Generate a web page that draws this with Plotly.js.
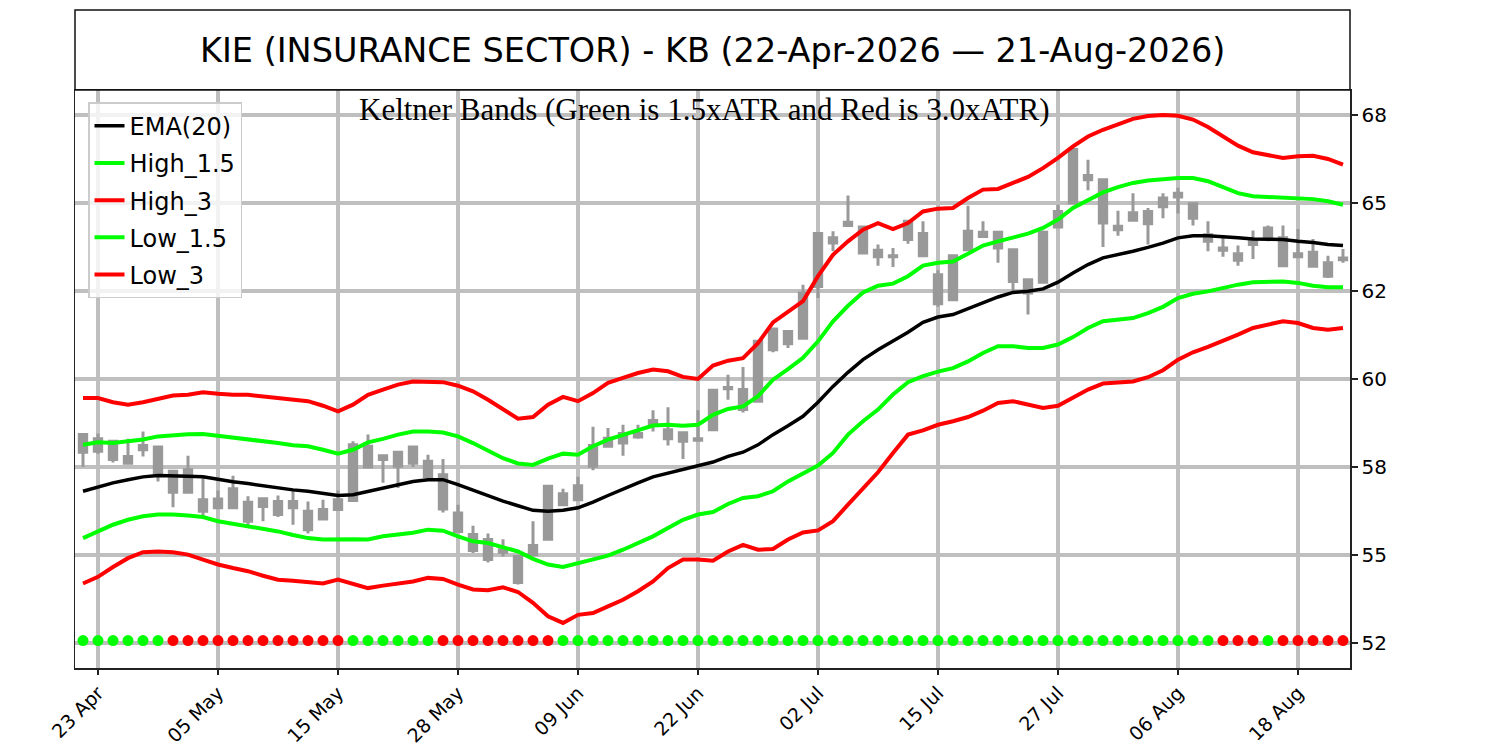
<!DOCTYPE html>
<html>
<head>
<meta charset="utf-8">
<script src="https://cdn.plot.ly/plotly-3.0.1.min.js"></script>
<style>html,body{margin:0;padding:0;background:#fff;}#chart{width:1500px;height:750px;}</style>
</head>
<body>
<div id="chart"></div>
<script>
// Trading days (22-Apr-2026 .. 21-Aug-2026)
const dates = [
 '22 Apr','23 Apr','24 Apr','27 Apr','28 Apr','29 Apr','30 Apr',
 '01 May','04 May','05 May','06 May','07 May','08 May','11 May','12 May','13 May','14 May','15 May',
 '18 May','19 May','20 May','21 May','22 May','26 May','27 May','28 May','29 May',
 '01 Jun','02 Jun','03 Jun','04 Jun','05 Jun','08 Jun','09 Jun','10 Jun','11 Jun','12 Jun',
 '15 Jun','16 Jun','17 Jun','18 Jun','22 Jun','23 Jun','24 Jun','25 Jun','26 Jun','29 Jun','30 Jun',
 '01 Jul','02 Jul','06 Jul','07 Jul','08 Jul','09 Jul','10 Jul','13 Jul','14 Jul','15 Jul',
 '16 Jul','17 Jul','20 Jul','21 Jul','22 Jul','23 Jul','24 Jul','27 Jul','28 Jul','29 Jul','30 Jul','31 Jul',
 '03 Aug','04 Aug','05 Aug','06 Aug','07 Aug','10 Aug','11 Aug','12 Aug','13 Aug','14 Aug',
 '17 Aug','18 Aug','19 Aug','20 Aug','21 Aug'
];

const openP = [
 57.92,58.30,58.23,57.80,57.99,58.07,57.38,56.78,56.57,56.34,
 56.34,56.50,56.38,56.15,56.52,56.24,56.02,56.29,56.55,57.50,
 57.82,57.52,57.61,57.66,57.28,56.19,55.58,55.44,55.15,54.96,
 55.01,55.45,56.43,56.57,57.52,58.09,58.18,58.35,58.72,58.56,
 58.47,58.30,58.56,59.72,59.70,59.37,60.83,61.35,61.16,62.63,
 64.01,64.45,64.32,63.66,63.50,63.96,64.13,62.96,62.25,63.67,
 64.05,64.17,63.67,62.82,62.75,64.32,65.00,65.66,65.66,64.24,
 64.72,64.76,64.89,65.17,64.98,64.10,63.72,63.56,63.82,63.98,
 64.01,63.56,63.60,63.30,63.39
];
const highP = [
 58.42,58.45,58.25,58.30,58.51,58.07,57.41,57.82,57.23,56.83,
 57.25,56.67,56.60,56.69,56.83,56.52,56.57,56.83,58.23,58.42,
 57.82,57.92,58.09,57.85,57.73,56.43,55.83,55.61,55.45,55.01,
 55.96,56.97,56.88,57.22,58.64,58.61,58.70,58.70,59.11,59.20,
 58.47,59.11,59.68,60.12,60.34,61.07,61.42,61.35,62.68,64.13,
 64.20,65.21,64.34,63.82,63.72,64.48,64.48,63.09,63.50,64.92,
 64.48,64.20,63.67,62.82,64.22,64.95,66.52,66.23,65.66,64.78,
 65.28,64.86,65.28,65.43,64.98,64.48,64.07,63.79,64.22,64.36,
 64.36,64.26,63.98,63.50,63.69
];
const lowP = [
 57.50,57.88,57.63,57.61,57.80,57.09,56.36,56.78,56.08,56.31,
 56.34,55.83,55.96,56.08,55.86,55.61,56.02,56.27,56.52,57.47,
 57.05,56.90,57.50,57.22,56.21,55.67,55.06,54.79,54.96,54.16,
 55.01,55.45,56.43,56.57,57.41,58.09,57.82,58.30,58.51,58.11,
 57.73,58.26,58.56,59.41,59.05,59.37,60.76,60.88,61.16,62.30,
 63.63,64.36,63.58,63.22,63.18,63.84,63.50,62.05,62.25,63.67,
 64.01,63.30,62.49,61.83,62.75,64.29,65.00,65.36,63.75,64.07,
 64.51,63.82,64.57,64.70,64.36,63.63,63.47,63.22,63.41,63.91,
 63.22,63.44,63.20,62.87,63.30
];
const closeP = [
 58.42,57.95,57.71,57.61,58.11,57.31,56.78,57.42,56.24,56.59,
 56.88,55.96,56.60,56.52,56.34,55.72,56.29,56.57,58.13,58.09,
 57.71,57.92,58.07,57.23,56.31,55.67,55.13,54.87,55.08,54.22,
 55.27,56.95,56.74,56.97,58.11,58.32,58.45,58.45,58.82,58.30,
 58.23,58.26,59.68,59.76,59.13,61.07,61.42,61.00,62.44,64.13,
 63.86,64.36,63.58,63.47,63.47,64.48,63.50,62.14,63.50,64.20,
 64.17,63.72,62.77,62.44,64.17,64.76,66.52,65.78,64.43,64.34,
 64.51,64.41,65.14,65.28,64.57,63.91,63.66,63.37,63.91,64.29,
 63.22,63.47,63.20,62.92,63.44
];

const ema20 = [
 56.81,56.93,57.05,57.14,57.22,57.26,57.26,57.24,57.22,57.14,
 57.08,57.03,56.97,56.90,56.85,56.81,56.74,56.69,56.71,56.81,
 56.90,57.00,57.09,57.14,57.14,57.00,56.84,56.67,56.53,56.40,
 56.27,56.24,56.27,56.34,56.50,56.69,56.88,57.05,57.22,57.33,
 57.43,57.54,57.64,57.80,57.92,58.13,58.42,58.67,58.94,59.34,
 59.79,60.19,60.55,60.83,61.07,61.33,61.61,61.76,61.83,61.99,
 62.16,62.33,62.46,62.49,62.56,62.75,63.01,63.25,63.44,63.53,
 63.63,63.74,63.86,64.01,64.07,64.07,64.03,64.01,63.98,63.98,
 63.96,63.91,63.88,63.82,63.79
];
const high15 = [
 58.13,58.20,58.18,58.23,58.28,58.37,58.41,58.43,58.44,58.39,
 58.34,58.30,58.25,58.18,58.12,58.09,57.99,57.88,57.99,58.20,
 58.30,58.42,58.51,58.51,58.48,58.37,58.18,57.95,57.75,57.60,
 57.56,57.74,57.88,57.85,58.09,58.28,58.42,58.56,58.68,58.70,
 58.67,58.70,58.98,59.15,59.22,59.51,59.98,60.28,60.60,61.07,
 61.64,62.08,62.46,62.65,62.71,62.92,63.22,63.30,63.34,63.56,
 63.79,63.91,64.03,64.13,64.29,64.53,64.86,65.09,65.30,65.45,
 65.57,65.64,65.68,65.71,65.71,65.62,65.45,65.28,65.19,65.17,
 65.13,65.11,65.11,65.05,64.95
];
const high3 = [
 59.46,59.46,59.34,59.27,59.34,59.44,59.53,59.55,59.62,59.58,
 59.55,59.55,59.51,59.46,59.41,59.37,59.24,59.08,59.27,59.55,
 59.70,59.84,59.93,59.91,59.91,59.81,59.65,59.41,59.15,58.87,
 58.92,59.27,59.49,59.37,59.60,59.89,60.03,60.17,60.27,60.22,
 60.06,60.00,60.38,60.52,60.59,61.02,61.61,61.92,62.21,62.92,
 63.53,63.91,64.24,64.43,64.26,64.43,64.76,64.84,64.86,65.14,
 65.38,65.40,65.57,65.74,65.99,66.28,66.61,66.89,67.08,67.25,
 67.39,67.47,67.50,67.48,67.37,67.16,66.91,66.63,66.44,66.37,
 66.28,66.33,66.34,66.25,66.09
];
const low15 = [
 55.48,55.67,55.86,56.00,56.10,56.15,56.15,56.12,56.08,55.96,
 55.89,55.81,55.74,55.67,55.57,55.48,55.44,55.45,55.45,55.44,
 55.53,55.58,55.63,55.72,55.69,55.53,55.39,55.34,55.22,55.10,
 54.89,54.73,54.66,54.77,54.87,54.98,55.15,55.34,55.53,55.77,
 56.00,56.15,56.22,56.45,56.62,56.67,56.81,57.09,57.33,57.54,
 57.90,58.42,58.80,59.13,59.56,59.91,60.08,60.21,60.31,60.50,
 60.74,60.93,60.93,60.88,60.88,60.98,61.19,61.45,61.64,61.69,
 61.73,61.87,62.05,62.30,62.42,62.49,62.59,62.68,62.75,62.77,
 62.77,62.73,62.65,62.61,62.61
];
const low3 = [
 54.19,54.38,54.66,54.91,55.08,55.10,55.08,55.01,54.87,54.73,
 54.63,54.54,54.41,54.30,54.27,54.22,54.19,54.30,54.19,54.06,
 54.13,54.19,54.25,54.35,54.32,54.16,54.02,54.00,54.08,53.95,
 53.64,53.26,53.07,53.30,53.35,53.54,53.73,53.97,54.25,54.63,
 54.87,54.87,54.84,55.10,55.29,55.15,55.17,55.44,55.64,55.70,
 55.96,56.43,56.90,57.35,57.90,58.42,58.54,58.70,58.80,58.92,
 59.10,59.32,59.37,59.27,59.18,59.24,59.46,59.70,59.87,59.89,
 59.93,60.05,60.25,60.55,60.76,60.91,61.07,61.26,61.45,61.54,
 61.64,61.59,61.45,61.40,61.45
];
// 1 = green (inside bands), 0 = red
const signal = [
 1,1,1,1,1,1,0,0,0,0,
 0,0,0,0,0,0,0,0,1,1,
 1,1,1,1,0,0,0,0,0,0,
 0,0,1,1,1,1,1,1,1,1,
 1,1,1,1,1,1,1,1,1,1,
 1,1,1,1,1,1,1,1,1,1,
 1,1,1,1,1,1,1,1,1,1,
 1,1,1,1,1,1,0,0,0,1,
 0,0,0,0,0
];

const tickLabels = ['23 Apr','05 May','15 May','28 May','09 Jun','22 Jun','02 Jul','15 Jul','27 Jul','06 Aug','18 Aug'];
const yTickVals = [52.5,55,57.5,60,62.5,65,67.5];
const yTickText = ['52','55','58','60','62','65','68'];
const signalLevel = 52.57;

const GREEN = '#00ff00', RED = '#ff0000', GRAY = '#999999';
const FONT = 'DejaVu Sans, sans-serif';

function band(name, y, color, width, rank) {
  return {type:'scatter', mode:'lines', x:dates, y:y, name:name,
    line:{color:color, width:width}, legendrank:rank, legendgroup:name, hoverinfo:'skip'};
}

const traces = [
  band('High_1.5', high15, GREEN, 4, 2),
  band('Low_1.5', low15, GREEN, 4, 4),
  {type:'candlestick', x:dates, open:openP, high:highP, low:lowP, close:closeP,
   increasing:{line:{color:GRAY, width:3}, fillcolor:GRAY},
   decreasing:{line:{color:GRAY, width:3}, fillcolor:GRAY},
   whiskerwidth:0, showlegend:false, hoverinfo:'skip'},
  {type:'scatter', mode:'markers', x:dates, y:dates.map(()=>signalLevel),
   marker:{size:11, color:signal.map(s => s ? GREEN : RED)}, showlegend:false, hoverinfo:'skip'},
  band('High_3', high3, RED, 4, 3),
  band('Low_3', low3, RED, 4, 5),
  band('EMA(20)', ema20, '#000000', 3.5, 1)
];

const plotH = 578;
const layout = {
  width:1500, height:750,
  margin:{l:75, r:150, t:90, b:82, pad:0},
  paper_bgcolor:'#ffffff', plot_bgcolor:'#ffffff',
  font:{family:FONT, color:'#000'},
  showlegend:true,
  legend:{x:0.0102, y:0.979, xanchor:'left', yanchor:'top',
    bgcolor:'rgba(255,255,255,0.8)', bordercolor:'#cccccc', borderwidth:1.5,
    font:{family:FONT, size:24, color:'#000'}, itemwidth:30,
    traceorder:'grouped', tracegroupgap:3},
  xaxis:{type:'category', categoryorder:'array', categoryarray:dates,
    range:[-0.533, 84.467], tickmode:'array', tickvals:tickLabels, ticktext:tickLabels,
    tickangle:-45, tickfont:{family:FONT, size:19, color:'#000'},
    showgrid:true, gridcolor:'#bfbfbf', gridwidth:3.5,
    ticks:'outside', ticklen:5, tickwidth:1.5, tickcolor:'#222',
    showline:true, linecolor:'#222', linewidth:1.5, mirror:true,
    rangeslider:{visible:false}, zeroline:false, fixedrange:true},
  yaxis:{side:'right', range:[51.79, 68.21], tickmode:'array', tickvals:yTickVals, ticktext:yTickText,
    tickfont:{family:FONT, size:20, color:'#000'},
    showgrid:true, gridcolor:'#bfbfbf', gridwidth:3.5,
    ticks:'outside', ticklen:6, tickwidth:1.5, tickcolor:'#222',
    showline:true, linecolor:'#222', linewidth:1.5, mirror:true, zeroline:false, fixedrange:true},
  shapes:[{type:'rect', xref:'paper', yref:'paper', x0:0, x1:1, y0:1, y1:(668-10)/plotH,
    line:{color:'#111', width:1.5}, fillcolor:'rgba(0,0,0,0)', layer:'above'}],
  annotations:[
    {xref:'paper', yref:'paper', x:0.5, y:(668-50)/plotH, xanchor:'center', yanchor:'middle',
     showarrow:false, text:'KIE (INSURANCE SECTOR) - KB (22-Apr-2026 — 21-Aug-2026)',
     font:{family:FONT, size:33.5, color:'#000'}},
    {xref:'paper', yref:'paper', x:0.494, y:(668-110)/plotH, xanchor:'center', yanchor:'middle',
     showarrow:false, text:'Keltner Bands (Green is 1.5xATR and Red is 3.0xATR)',
     font:{family:'Liberation Serif, Times New Roman, serif', size:31, color:'#000'}}
  ]
};

Plotly.newPlot('chart', traces, layout, {displayModeBar:false, staticPlot:true});
</script>
</body>
</html>
